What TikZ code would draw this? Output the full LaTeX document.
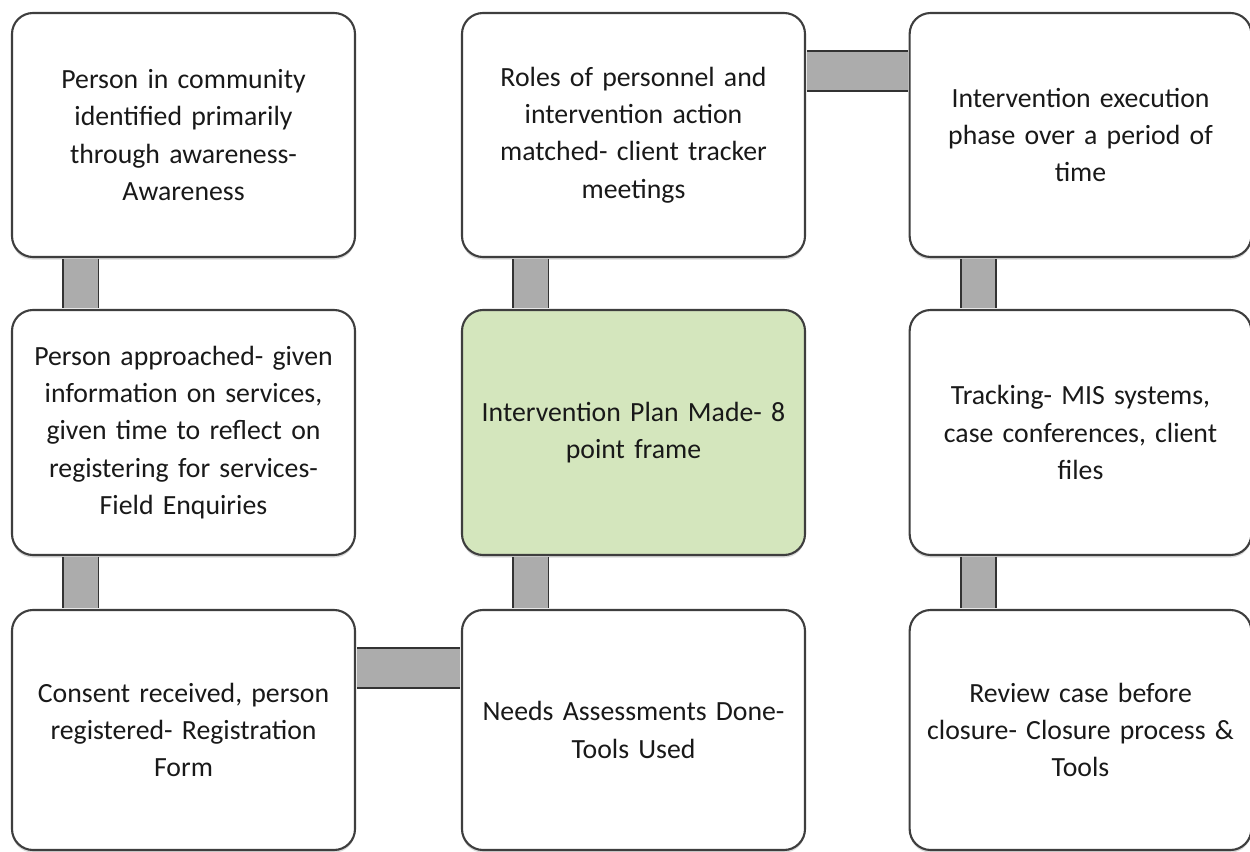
\documentclass[tikz,border=0pt]{standalone}
\usepackage{fontspec}
\setmainfont{Carlito}
\usepackage{xcolor}
\usepackage{tikz}
\usetikzlibrary{shadows}

\definecolor{planGreen}{RGB}{212,230,189}
\definecolor{boxLine}{RGB}{62,62,62}
\definecolor{barGray}{RGB}{172,172,172}

\begin{document}
\begin{tikzpicture}[
  box/.style={draw=boxLine, line width=1.2pt, fill=white, rounded corners=0.42cm,
    minimum width=6.86cm, minimum height=4.88cm, text width=6.6cm, align=center,
    font=\fontsize{15.8}{21.2}\selectfont, text=black!90,
    drop shadow={shadow xshift=0pt, shadow yshift=-1.5pt, opacity=0.3}},
  vbar/.style={draw=black!80, line width=1pt, double=barGray, double distance=0.67cm,
    shorten <=0.6pt, shorten >=0.6pt},
  hbar/.style={vbar, double distance=0.77cm}]
  \useasboundingbox (0,0) rectangle (25,-17.04);
  % first column
  \node[box] (aware) at (3.67,-2.7)
    {Person in community\\ identified primarily\\ through awareness-\\ Awareness};
  \node[box, minimum height=4.9cm] (enquiry) at (3.67,-8.65)
    {Person approached- given\\ information on services,\\ given time to reflect on\\ registering for services-\\ Field Enquiries};
  \node[box, minimum height=4.8cm] (consent) at (3.67,-14.6)
    {Consent received, person\\ registered- Registration\\ Form};
  % second column
  \node[box] (roles) at (12.67,-2.7)
    {Roles of personnel and\\ intervention action\\ matched- client tracker\\ meetings};
  \node[box, minimum height=4.9cm, fill=planGreen] (plan) at (12.67,-8.65)
    {Intervention Plan Made- 8\\ point frame};
  \node[box, minimum height=4.8cm] (needs) at (12.67,-14.6)
    {Needs Assessments Done-\\ Tools Used};
  % third column
  \node[box, minimum width=6.74cm] (exec) at (21.61,-2.7)
    {Intervention execution\\ phase over a period of\\ time};
  \node[box, minimum width=6.74cm, minimum height=4.9cm] (track) at (21.61,-8.65)
    {Tracking- MIS systems,\\ case conferences, client\\ files};
  \node[box, minimum width=6.74cm, minimum height=4.8cm] (review) at (21.61,-14.6)
    {Review case before\\ closure- Closure process \&\\ Tools};
  % bars
  \draw[vbar] ([xshift=1.4cm]aware.south west) -- ([xshift=1.4cm]enquiry.north west);
  \draw[vbar] ([xshift=1.4cm]enquiry.south west) -- ([xshift=1.4cm]consent.north west);
  \draw[hbar] ([yshift=-1.18cm]consent.north east) -- ([yshift=-1.18cm]needs.north west);
  \draw[vbar] ([xshift=1.4cm]needs.north west) -- ([xshift=1.4cm]plan.south west);
  \draw[vbar] ([xshift=1.4cm]plan.north west) -- ([xshift=1.4cm]roles.south west);
  \draw[hbar] ([yshift=-1.18cm]roles.north east) -- ([yshift=-1.18cm]exec.north west);
  \draw[vbar] ([xshift=1.4cm]exec.south west) -- ([xshift=1.4cm]track.north west);
  \draw[vbar] ([xshift=1.4cm]track.south west) -- ([xshift=1.4cm]review.north west);
\end{tikzpicture}
\end{document}
